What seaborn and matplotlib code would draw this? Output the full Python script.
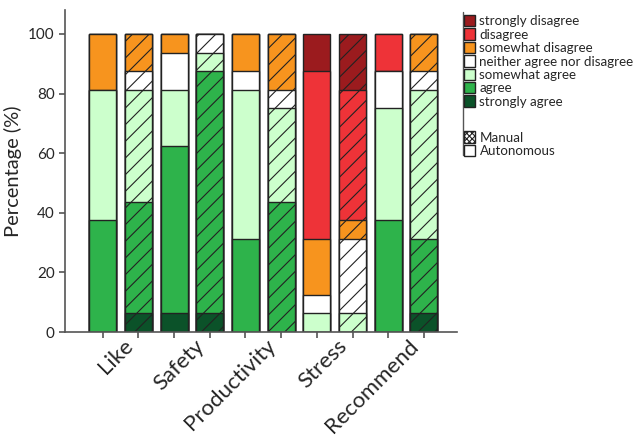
import numpy as np
import pandas as pd
import matplotlib
matplotlib.use("Agg")
import matplotlib.pyplot as plt
from matplotlib.patches import Patch
from matplotlib.lines import Line2D
import seaborn as sns

# survey answers, % of 16 respondents, per question and condition
questions = ['Like', 'Safety', 'Productivity', 'Stress', 'Recommend']
conditions = ['Autonomous', 'Manual']
levels = ['strongly agree', 'agree', 'somewhat agree',
          'neither agree nor disagree', 'somewhat disagree',
          'disagree', 'strongly disagree']
colors = ['#0b5229', '#2eb34b', '#ccffcc', '#ffffff', '#f7941e', '#ee3338', '#9b1b1e']

# one value per bar (question x condition), levels from strongly agree upward
strongly_agree = [0, 6.25, 6.25, 6.25, 0, 0, 0, 0, 0, 6.25]
agree = [37.5, 37.5, 56.25, 81.25, 31.25, 43.75, 0, 0, 37.5, 25]
somewhat_agree = [43.75, 37.5, 18.75, 6.25, 50, 31.25, 6.25, 6.25, 37.5, 50]
neither = [0, 6.25, 12.5, 6.25, 6.25, 6.25, 6.25, 25, 12.5, 6.25]
somewhat_disagree = [18.75, 12.5, 6.25, 0, 12.5, 18.75, 18.75, 6.25, 0, 12.5]
disagree = [0, 0, 0, 0, 0, 0, 56.25, 43.75, 12.5, 0]
strongly_disagree = [0, 0, 0, 0, 0, 0, 12.5, 18.75, 0, 0]

bars = [f'{q} {c}' for q in questions for c in conditions]
df = pd.DataFrame({
    'bar': bars,
    'strongly agree': strongly_agree,
    'agree': agree,
    'somewhat agree': somewhat_agree,
    'neither agree nor disagree': neither,
    'somewhat disagree': somewhat_disagree,
    'disagree': disagree,
    'strongly disagree': strongly_disagree,
})
cum = df[levels].cumsum(axis=1)
cum['bar'] = df['bar']

sns.set_style('ticks')
plt.rcParams['font.family'] = ['Lato', 'DejaVu Sans']
plt.rcParams['hatch.linewidth'] = 0.8

fig = plt.figure(figsize=(6.39, 4.38), dpi=100)
ax = fig.add_axes([0.1017, 0.242, 0.613, 0.735])

edge = '#222222'
# draw tallest cumulative first, then overlay the lower ones
for lev, col in reversed(list(zip(levels, colors))):
    n0 = len(ax.patches)
    sns.barplot(data=cum, x='bar', y=lev, order=bars, color=col, saturation=1,
                width=0.76, edgecolor=edge, linewidth=1.0, ax=ax)
    for i, p in enumerate(ax.patches[n0:]):
        if i % 2 == 1:
            p.set_hatch('//')

ax.set_ylim(0, 108)
ax.set_xlim(-1.06, 9.92)
ax.set_yticks([0, 20, 40, 60, 80, 100])
ax.tick_params(axis='y', labelsize=11, color='#555555', width=1.2, length=4)
ax.tick_params(axis='x', color='#555555', width=1.2, length=4)
ax.set_xticks(range(10))
ax.set_xticklabels([])
for i, q in enumerate(questions):
    ax.text(2 * i + 0.75, -3.6, q, rotation=45, ha='right', va='center',
            rotation_mode='anchor', fontsize=16, transform=ax.transData)
ax.set_xlabel('')
ax.set_ylabel('Percentage (%)', fontsize=14.5)
for s in ['left', 'bottom']:
    ax.spines[s].set_color('#555555')
    ax.spines[s].set_linewidth(1.2)
sns.despine(ax=ax)

h1 = [Patch(facecolor=c, edgecolor=edge, label=l) for l, c in
      reversed(list(zip(levels, colors)))]
fig.legend(handles=h1, loc='upper left', bbox_to_anchor=(0.718, 0.978),
           frameon=False, fontsize=9.6, handlelength=0.8, handleheight=0.95,
           handletextpad=0.35, labelspacing=0.08, borderaxespad=0)
h2 = [Patch(facecolor='white', edgecolor=edge, hatch='xxxxxx', label='Manual'),
      Patch(facecolor='white', edgecolor=edge, label='Autonomous')]
fig.legend(handles=h2, loc='upper left', bbox_to_anchor=(0.718, 0.712),
           frameon=False, fontsize=9.6, handlelength=0.8, handleheight=0.95,
           handletextpad=0.35, labelspacing=0.08, borderaxespad=0)
fig.add_artist(Line2D([0.724, 0.724], [0.645, 0.972], color='#555555', lw=1.0))

fig.savefig('out.png', dpi=100)
